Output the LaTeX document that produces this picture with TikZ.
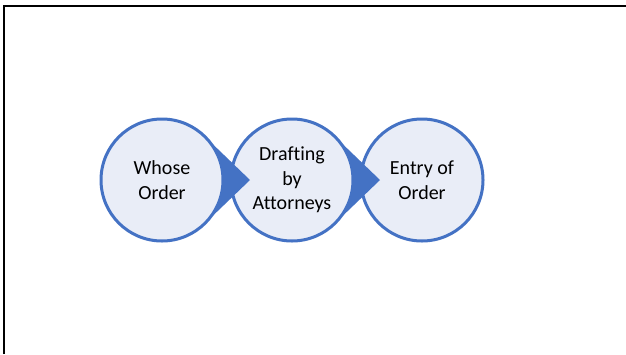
\documentclass[tikz,border=0pt]{standalone}
\usepackage{fontspec}
\setmainfont{Carlito}[Ligatures=CommonOff]
\usetikzlibrary{positioning,calc}
\definecolor{stageblue}{RGB}{68,114,196}
\definecolor{stagefill}{RGB}{233,237,247}
\tikzset{
stage/.style={
  circle,
  draw=stageblue,
  fill=stagefill,
  line width=3pt,
  minimum size=122pt,
  inner sep=0pt,
  align=center,
  font=\fontsize{20}{24.5}\selectfont
  },
stagearrow/.style={
  fill=stageblue
  }
}

\begin{document}
\begin{tikzpicture}[x=1pt,y=-1pt]

\useasboundingbox (0,0) rectangle (626,354);
\draw[line width=2pt] (4,354) -- (4,6) -- (626,6);

\node[stage] (whose) at (162,180) {Whose\\Order};
\node[stage,right=5pt of whose] (drafting) {Drafting\\by\\Attorneys};
\node[stage,right=5pt of drafting] (entry) {Entry of\\Order};

\coordinate[right=88pt of whose.center] (tip1);
\coordinate[right=88pt of drafting.center] (tip2);

\fill[stagearrow] (tip1) -- ($(whose.center)+(46:61)$)
  arc[start angle=46,end angle=-46,radius=61] -- cycle;
\fill[stagearrow] (tip2) -- ($(drafting.center)+(46:61)$)
  arc[start angle=46,end angle=-46,radius=61] -- cycle;

\end{tikzpicture}
\end{document}
